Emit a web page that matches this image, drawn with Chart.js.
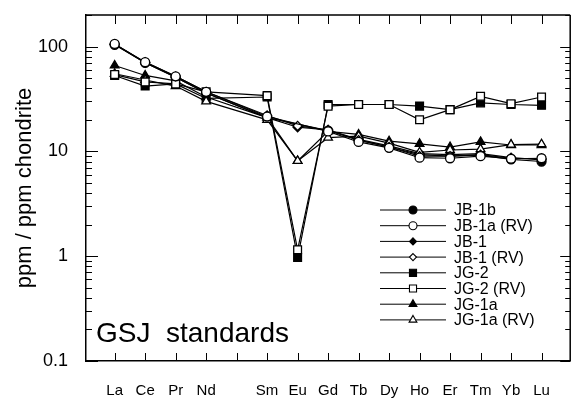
<!DOCTYPE html>
<html>
<head>
<meta charset="utf-8">
<script src="https://cdn.jsdelivr.net/npm/chart.js@4/dist/chart.umd.min.js"></script>
<style>
html,body{margin:0;padding:0;background:#fff;}
#wrap{width:577px;height:401px;position:relative;}
</style>
</head>
<body>
<div id="wrap"><canvas id="c" width="577" height="401"></canvas></div>
<script>
const elements = ["La","Ce","Pr","Nd","","Sm","Eu","Gd","Tb","Dy","Ho","Er","Tm","Yb","Lu"];
const yTickLabels = ["0.1","1","10","100"];
const seriesNames = ["JB-1b","JB-1a (RV)","JB-1","JB-1 (RV)","JG-2","JG-2 (RV)","JG-1a","JG-1a (RV)"];

const jb1b    = [104, 70, 51, 36, null, 21,   null, 15.8, 12.8, 11,   9.3, 9.0, 9.2, 8.4, 8.0];
const jb1aRV  = [106, 71, 52, 37, null, 21.5, null, 15.5, 12.3, 10.8, 8.7, 8.6, 9.0, 8.5, 8.6];
const jb1     = [105, 70, 51, 36, null, 21,   17,   16,   13,   11.3, 9.5, 9.3, 9.5, 8.7, 8.3];
const jb1RV   = [105, 71, 52, 37, null, 22,   17.5, 16,   12.8, 11,   9.0, 9.0, 9.3, 8.6, 8.5];
const jg2     = [53, 42, 44, 32, null, 33,   0.97, 28,   28,   28,   27,  25,  29,  28,  27.5];
const jg2RV   = [54, 46, 44, 37, null, 34,   1.15, 27,   28,   28,   20,  25,  33.5, 28.5, 33];
const jg1a    = [66, 53, 47, 33, null, 21,   8.1,  15.5, 14.5, 12.5, 11.8, 11, 12.3, 11.5, 11.5];
const jg1aRV  = [55, 48, 42, 30, null, 20,   8.1,  13.5, 14,   12,   9.8, 10.3, 10.5, 11.6, 11.7];

const seriesValues = [jb1b, jb1aRV, jb1, jb1RV, jg2, jg2RV, jg1a, jg1aRV];
const styles = [
  {ps:'circle', fill:true, r:4.5, lr:4},
  {ps:'circle', fill:false, r:4.5, lr:4},
  {ps:'rectRot', fill:true, r:4.5, lr:3.5},
  {ps:'rectRot', fill:false, r:4.5, lr:3.5},
  {ps:'rect', fill:true, r:5.5, lr:5},
  {ps:'rect', fill:false, r:5.5, lr:5},
  {ps:'triangle', fill:true, r:5, lr:4.5},
  {ps:'triangle', fill:false, r:5, lr:4.5}
];

const FONT = "'Liberation Sans', Arial, Helvetica, sans-serif";

const datasets = seriesNames.map((name, k) => ({
  label: name,
  data: seriesValues[k].map((v, i) => ({x: i, y: v})),
  borderColor: '#000',
  borderWidth: 1.2,
  pointStyle: styles[k].ps,
  pointRadius: styles[k].r,
  pointBorderWidth: 1.3,
  pointBorderColor: '#000',
  pointBackgroundColor: styles[k].fill ? '#000' : '#fff',
  spanGaps: true,
  fill: false,
  tension: 0,
  order: styles[k].fill ? 2 : 1
}));

function drawMarker(ctx, style, x, y, r, fill) {
  ctx.save();
  ctx.beginPath();
  if (style === 'circle') {
    ctx.arc(x, y, r, 0, Math.PI * 2);
  } else if (style === 'rect') {
    const s = r * Math.SQRT1_2;
    ctx.rect(x - s, y - s, 2 * s, 2 * s);
  } else if (style === 'rectRot') {
    ctx.moveTo(x, y - r); ctx.lineTo(x + r, y); ctx.lineTo(x, y + r); ctx.lineTo(x - r, y); ctx.closePath();
  } else if (style === 'triangle') {
    ctx.moveTo(x, y - r); ctx.lineTo(x + r * 0.866, y + r * 0.5); ctx.lineTo(x - r * 0.866, y + r * 0.5); ctx.closePath();
  }
  ctx.fillStyle = fill ? '#000' : '#fff';
  ctx.fill();
  ctx.lineWidth = 1.1;
  ctx.strokeStyle = '#000';
  ctx.stroke();
  ctx.restore();
}

const decor = {
  id: 'decor',
  afterDraw(chart) {
    const ctx = chart.ctx;
    const a = chart.chartArea;
    const xs = chart.scales.x, ys = chart.scales.y;
    ctx.save();
    ctx.strokeStyle = '#000';
    ctx.lineWidth = 1.5;
    ctx.beginPath();
    ctx.moveTo(a.left, a.top); ctx.lineTo(a.right, a.top);
    ctx.moveTo(a.right, a.top); ctx.lineTo(a.right, a.bottom);
    ctx.stroke();
    ctx.lineWidth = 1;
    ctx.beginPath();
    for (let i = 0; i < elements.length; i++) {
      const px = Math.round(xs.getPixelForValue(i)) + 0.5;
      ctx.moveTo(px, a.bottom); ctx.lineTo(px, a.bottom - 8);
      ctx.moveTo(px, a.top); ctx.lineTo(px, a.top + 9);
    }
    ctx.stroke();
    ctx.beginPath();
    for (let d = 0.1; d < 300; d *= 10) {
      for (let m = 1; m <= 9; m++) {
        const v = d * m;
        if (v > 200 || v < 0.1) continue;
        const py = Math.round(ys.getPixelForValue(v)) + 0.5;
        const len = m === 1 ? 12 : 6;
        ctx.moveTo(a.left, py); ctx.lineTo(a.left + len, py);
        ctx.moveTo(a.right, py); ctx.lineTo(a.right - (m === 1 ? 10 : 5), py);
      }
    }
    ctx.stroke();
    ctx.fillStyle = '#000';
    ctx.font = '28px ' + FONT;
    ctx.textBaseline = 'alphabetic';
    ctx.textAlign = 'left';
    ctx.fillText('GSJ  standards', 96, 342);
    ctx.font = '16px ' + FONT;
    ctx.textBaseline = 'middle';
    for (let k = 0; k < seriesNames.length; k++) {
      const y = 210 + k * 15.7;
      ctx.lineWidth = 1;
      ctx.beginPath();
      ctx.moveTo(380, y); ctx.lineTo(446, y);
      ctx.stroke();
      drawMarker(ctx, styles[k].ps, 413, y, styles[k].lr, styles[k].fill);
      ctx.fillStyle = '#000';
      ctx.fillText(seriesNames[k], 454, y + 1);
    }
    ctx.restore();
  }
};

new Chart(document.getElementById('c'), {
  type: 'line',
  data: { datasets },
  plugins: [decor],
  options: {
    responsive: false,
    animation: false,
    layout: { padding: { top: 15, right: 0, bottom: 0, left: 0 } },
    plugins: { legend: { display: false }, tooltip: { enabled: false } },
    scales: {
      x: {
        type: 'linear',
        min: -0.94,
        max: 14.94,
        afterFit(s) { s.height = 40; s.paddingLeft = 0; s.paddingRight = 0; },
        border: { display: true, color: '#000', width: 1.5 },
        grid: { display: false, drawTicks: false },
        ticks: {
          stepSize: 1,
          includeBounds: false,
          autoSkip: false,
          maxRotation: 0,
          padding: 21,
          color: '#000',
          font: { family: FONT, size: 15 },
          callback(v) { return Number.isInteger(v) && v >= 0 && v < elements.length ? elements[v] : ''; }
        }
      },
      y: {
        type: 'logarithmic',
        min: 0.1,
        max: 200,
        afterFit(s) { s.width = 86; s.paddingTop = 0; s.paddingBottom = 0; },
        border: { display: true, color: '#000', width: 1.5 },
        grid: { display: false, drawTicks: false },
        title: { display: true, text: 'ppm / ppm chondrite', color: '#000', font: { family: FONT, size: 22 }, padding: { top: 12, bottom: 0 } },
        ticks: {
          autoSkip: false,
          padding: 18,
          color: '#000',
          font: { family: FONT, size: 18 },
          callback(v) {
            const l = Math.log10(v);
            if (Math.abs(l - Math.round(l)) < 1e-9) {
              const idx = Math.round(l) + 1;
              return yTickLabels[idx] !== undefined ? yTickLabels[idx] : '';
            }
            return '';
          }
        }
      }
    }
  }
});
</script>
</body>
</html>
